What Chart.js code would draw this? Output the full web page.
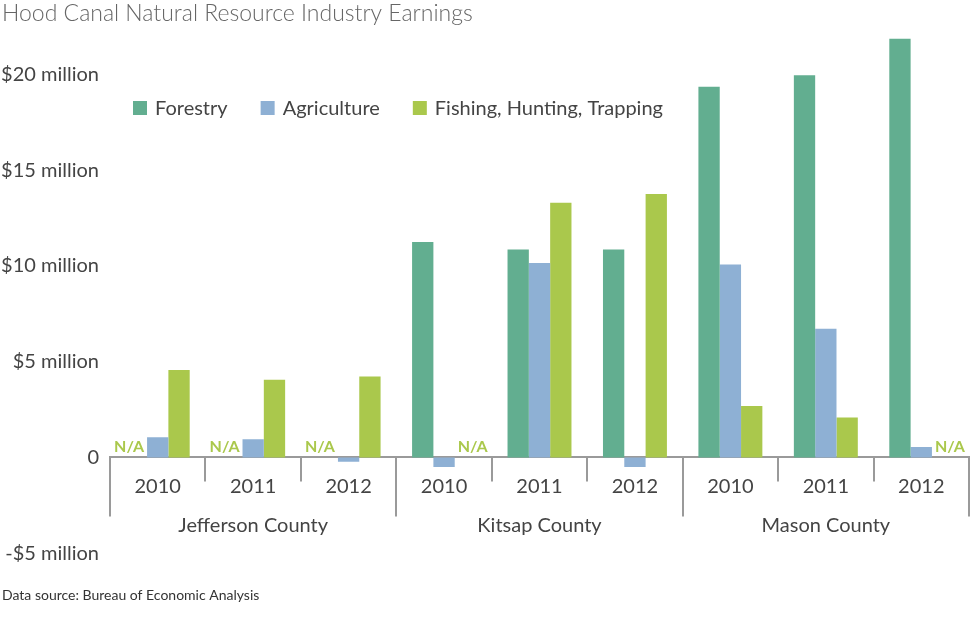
<!DOCTYPE html>
<html>
<head>
<meta charset="utf-8">
<script src="https://cdn.jsdelivr.net/npm/chart.js@4.4.0/dist/chart.umd.min.js"></script>
<style>
  html, body { margin: 0; padding: 0; background: #ffffff; }
  #wrap { position: relative; width: 972px; height: 626px; }
</style>
</head>
<body>
<div id="wrap"><canvas id="c" width="972" height="626"></canvas></div>
<script>
// ---- data ----
const years = ['2010', '2011', '2012', '2010', '2011', '2012', '2010', '2011', '2012'];
const counties = ['Jefferson County', 'Kitsap County', 'Mason County'];
const seriesNames = ['Forestry', 'Agriculture', 'Fishing, Hunting, Trapping'];
const forestry    = [null, null, null, 11.25, 10.85, 10.85, 19.35, 19.95, 21.85];
const agriculture = [1.05, 0.95, -0.22, -0.5, 10.15, -0.5, 10.07, 6.72, 0.55];
const fishing     = [4.56, 4.05, 4.23, null, 13.3, 13.75, 2.69, 2.08, null];
const yTickValues = [-5, 0, 5, 10, 15, 20];
const yTickLabels = ['-$5 million', '0', '$5 million', '$10 million', '$15 million', '$20 million'];
const naLabel = 'N/A';
const titleText = 'Hood Canal Natural Resource Industry Earnings';
const sourceText = 'Data source: Bureau of Economic Analysis';

const colors = ['#62ae90', '#8eb0d4', '#aac84c'];
const FONT = 'Lato, "Open Sans", sans-serif';

const decorPlugin = {
  id: 'decor',
  afterDatasetsDraw(chart) {
    const ctx = chart.ctx;
    const xs = chart.scales.x;
    const ys = chart.scales.y;
    const y0 = ys.getPixelForValue(0);
    const step = xs.getPixelForValue(1) - xs.getPixelForValue(0);
    ctx.save();
    // separators
    ctx.strokeStyle = '#9a9a9a';
    ctx.lineWidth = 2;
    for (let i = 0; i <= years.length; i++) {
      const x = Math.round(xs.getPixelForValue(i) - step / 2);
      const long = (i % 3 === 0);
      ctx.beginPath();
      ctx.moveTo(x, y0);
      ctx.lineTo(x, y0 + (long ? 59 : 24));
      ctx.stroke();
    }
    // county labels
    ctx.fillStyle = '#444444';
    ctx.font = '20px ' + FONT;
    ctx.textAlign = 'center';
    ctx.textBaseline = 'middle';
    counties.forEach((name, g) => {
      const cx = (xs.getPixelForValue(g * 3) + xs.getPixelForValue(g * 3 + 2)) / 2;
      ctx.fillText(name, cx, y0 + 68);
    });
    // N/A labels
    ctx.font = 'bold 16px ' + FONT;
    ctx.fillStyle = colors[2];
    ctx.textBaseline = 'alphabetic';
    chart.data.datasets.forEach((ds, di) => {
      const meta = chart.getDatasetMeta(di);
      ds.data.forEach((v, i) => {
        if (v === null) {
          const el = meta.data[i];
          const {x, width} = el.getProps(['x', 'width'], true);
          if (di === 0) {
            ctx.textAlign = 'right';
            ctx.fillText(naLabel, x + width / 2 - 3, y0 - 5);
          } else {
            ctx.textAlign = 'left';
            ctx.fillText(naLabel, x - width / 2 + 3, y0 - 5);
          }
        }
      });
    });
    // legend
    ctx.font = '20px ' + FONT;
    ctx.textAlign = 'left';
    ctx.textBaseline = 'middle';
    let lx = 133;
    const ly = 108;
    chart.data.datasets.forEach((ds) => {
      ctx.fillStyle = ds.backgroundColor;
      ctx.fillRect(lx, ly - 7, 14, 14);
      ctx.fillStyle = '#444444';
      ctx.fillText(ds.label, lx + 22, ly + 1);
      lx += 22 + ctx.measureText(ds.label).width + 33;
    });
    ctx.restore();
  }
};

new Chart(document.getElementById('c'), {
  type: 'bar',
  data: {
    labels: years,
    datasets: [
      { label: seriesNames[0], data: forestry, backgroundColor: colors[0] },
      { label: seriesNames[1], data: agriculture, backgroundColor: colors[1] },
      { label: seriesNames[2], data: fishing, backgroundColor: colors[2] }
    ]
  },
  options: {
    responsive: false,
    animation: false,
    devicePixelRatio: 1,
    categoryPercentage: 0.67,
    barPercentage: 1.0,
    layout: { padding: { left: 2, right: 3, top: 0, bottom: 22 } },
    plugins: {
      legend: { display: false },
      tooltip: { enabled: false },
      title: {
        display: true, text: titleText, align: 'start',
        color: '#666666',
        font: { family: FONT, size: 23, weight: '300', lineHeight: 1.2 },
        padding: { top: 0, bottom: 8.4 }
      },
      subtitle: {
        display: true, text: sourceText, align: 'start', position: 'bottom',
        color: '#333333',
        font: { family: FONT, size: 14, weight: 'normal', lineHeight: 1.2 },
        padding: { top: 34, bottom: 0 }
      }
    },
    scales: {
      x: {
        type: 'category',
        position: { y: 0 },
        offset: true,
        grid: { display: true, drawOnChartArea: false, drawTicks: false, offset: true },
        border: { display: true, color: '#9a9a9a', width: 2 },
        ticks: { color: '#444444', font: { family: FONT, size: 20 }, padding: 17, maxRotation: 0, autoSkip: false }
      },
      y: {
        min: -5, max: 22,
        grid: { display: false, drawTicks: false },
        border: { display: false },
        afterBuildTicks: (scale) => { scale.ticks = yTickValues.map(v => ({ value: v })); },
        afterFit: (scale) => { scale.width = 108; },
        ticks: {
          color: '#444444',
          font: { family: FONT, size: 20 },
          padding: 11,
          callback: (v) => { const k = yTickValues.indexOf(v); return k >= 0 ? yTickLabels[k] : ''; }
        }
      }
    }
  },
  plugins: [decorPlugin]
});
</script>
</body>
</html>
